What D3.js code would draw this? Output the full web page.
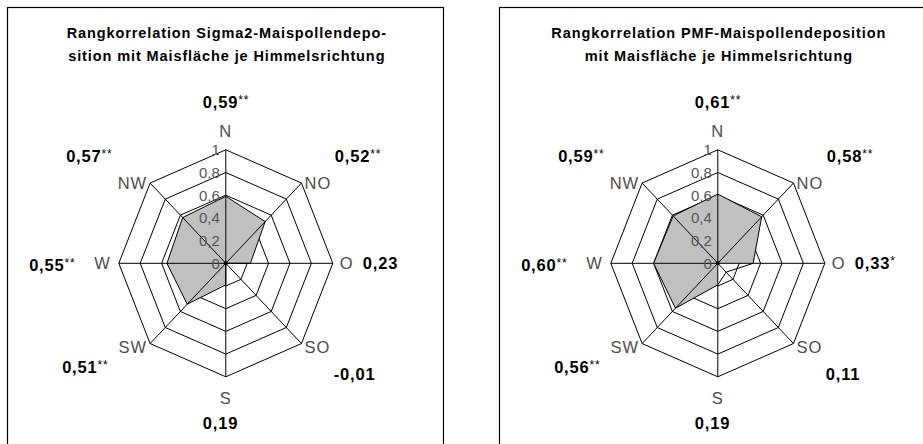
<!DOCTYPE html>
<html>
<head>
<meta charset="utf-8">
<script src="https://cdn.jsdelivr.net/npm/d3@7"></script>
<style>
  body { margin: 0; background: #fff; }
  svg { display: block; font-family: Arial, "Liberation Sans", sans-serif; }
</style>
</head>
<body>
<svg width="923" height="444"></svg>
<script>
"use strict";

// data
var directions = ["N", "NO", "O", "SO", "S", "SW", "W", "NW"];
var ticks = [0, 0.2, 0.4, 0.6, 0.8, 1];

var sigma2Values = [0.59, 0.52, 0.23, -0.01, 0.19, 0.51, 0.55, 0.57];
var sigma2Stars = ["**", "**", "", "", "", "**", "**", "**"];
var sigma2Title = ["Rangkorrelation Sigma2-Maispollendepo-", "sition mit Maisfläche je Himmelsrichtung"];

var pmfValues = [0.61, 0.58, 0.33, 0.11, 0.19, 0.56, 0.60, 0.59];
var pmfStars = ["**", "**", "*", "", "", "**", "**", "**"];
var pmfTitle = ["Rangkorrelation PMF-Maispollendeposition", "mit Maisfläche je Himmelsrichtung"];

var de = d3.formatLocale({decimal: ",", thousands: ".", grouping: [3], currency: ["", " €"], minus: "-"});
var fmtValue = de.format(".2f"),
    fmtTick = de.format("~g");

var svg = d3.select("svg");

// where the hand placed value boxes sit, relative to the chart centre
var valuePlace = [
  [-23, -161, "start"], [109, -107, "start"], [137, 0, "start"], [108, 111, "start"],
  [-23, 160, "start"], [-117, 104, "end"], [-150, 2, "end"], [-113, -107, "end"]
];

var rx = d3.scaleLinear().domain([0, 1]).range([0, 107]),
    ry = d3.scaleLinear().domain([0, 1]).range([0, 113.5]);

var angle = d3.scaleLinear().domain([0, directions.length]).range([0, 2 * Math.PI]);

function drawPanel(left, values, stars, title) {
  var g = svg.append("g");
  var cx = left + 218.3, cy = 263.3;

  function pt(v, i) {
    var a = angle(i);
    return [cx + rx(v) * Math.sin(a), cy - ry(v) * Math.cos(a)];
  }

  g.append("rect")
    .attr("x", left).attr("y", 7.5)
    .attr("width", 436).attr("height", 460)
    .attr("fill", "#fff").attr("stroke", "#000").attr("stroke-width", 1.2);

  g.selectAll("text.title").data(title).enter().append("text")
    .attr("class", "title")
    .attr("x", cx + 1)
    .attr("y", function (d, i) { return 37.5 + i * 23; })
    .attr("text-anchor", "middle")
    .attr("font-size", 14.5).attr("font-weight", "bold")
    .attr("letter-spacing", 0.9)
    .text(function (d) { return d; });

  // rings
  g.selectAll("polygon.ring").data(ticks.slice(1)).enter().append("polygon")
    .attr("class", "ring")
    .attr("points", function (t) {
      return directions.map(function (d, i) { return pt(t, i).join(","); }).join(" ");
    })
    .attr("fill", "none").attr("stroke", "#000").attr("stroke-width", 1);

  // the original fill leaves the O-SO-S wedge open and runs through the centre
  var fillPts = values.map(function (v, i) { return directions[i] === "SO" ? [cx, cy] : pt(v, i); });
  g.append("polygon")
    .attr("points", fillPts.map(function (p) { return p.join(","); }).join(" "))
    .attr("fill", "#c0c0c0").attr("stroke", "none");

  g.append("polygon")
    .attr("points", values.map(function (v, i) { return pt(Math.max(v, 0), i).join(","); }).join(" "))
    .attr("fill", "none").attr("stroke", "#000").attr("stroke-width", 1);

  // spokes
  g.selectAll("line.spoke").data(directions).enter().append("line")
    .attr("class", "spoke")
    .attr("x1", cx).attr("y1", cy)
    .attr("x2", function (d, i) { return pt(1, i)[0]; })
    .attr("y2", function (d, i) { return pt(1, i)[1]; })
    .attr("stroke", "#000").attr("stroke-width", 1);

  g.append("circle").attr("cx", cx).attr("cy", cy).attr("r", 2).attr("fill", "#000");

  // tick labels along N
  g.selectAll("text.tick").data(ticks).enter().append("text")
    .attr("class", "tick")
    .attr("x", cx - 6)
    .attr("y", function (t) { return cy - ry(t) + 5.5; })
    .attr("text-anchor", "end")
    .attr("font-size", 15).attr("fill", "#555")
    .text(fmtTick);

  // category labels
  g.selectAll("text.cat").data(directions).enter().append("text")
    .attr("class", "cat")
    .attr("transform", function (d, i) {
      var a = angle(i), s = Math.sin(a), c = Math.cos(a), p = pt(1, i);
      var dx = s > 0.9 ? 7 : s > 0.1 ? 3 : s < -0.9 ? -8 : s < -0.1 ? -3 : 0;
      var dy = c > 0.9 ? -19 : c < -0.9 ? 21.5 : c < -0.1 ? 3 : 0;
      return "translate(" + (p[0] + dx) + "," + (p[1] + dy + 6) + ")";
    })
    .attr("text-anchor", function (d, i) {
      var s = Math.sin(angle(i));
      return s > 0.1 ? "start" : s < -0.1 ? "end" : "middle";
    })
    .attr("font-size", 16.5).attr("letter-spacing", 1).attr("fill", "#4d4d4d")
    .text(function (d) { return d; });

  // value labels
  var vl = g.selectAll("text.val").data(values).enter().append("text")
    .attr("class", "val")
    .attr("x", function (d, i) { return cx + valuePlace[i][0]; })
    .attr("y", function (d, i) { return cy + valuePlace[i][1] + 6; })
    .attr("text-anchor", function (d, i) { return valuePlace[i][2]; })
    .attr("font-size", 16.5).attr("font-weight", "bold").attr("fill", "#000");
  vl.append("tspan").attr("letter-spacing", 0.8).text(function (d) { return fmtValue(d); });
  vl.append("tspan")
    .attr("font-size", 12).attr("font-weight", "normal").attr("dy", -4)
    .attr("letter-spacing", 1)
    .text(function (d, i) { return stars[i]; });
}

drawPanel(7.5, sigma2Values, sigma2Stars, sigma2Title);
drawPanel(499.5, pmfValues, pmfStars, pmfTitle);
</script>
</body>
</html>
